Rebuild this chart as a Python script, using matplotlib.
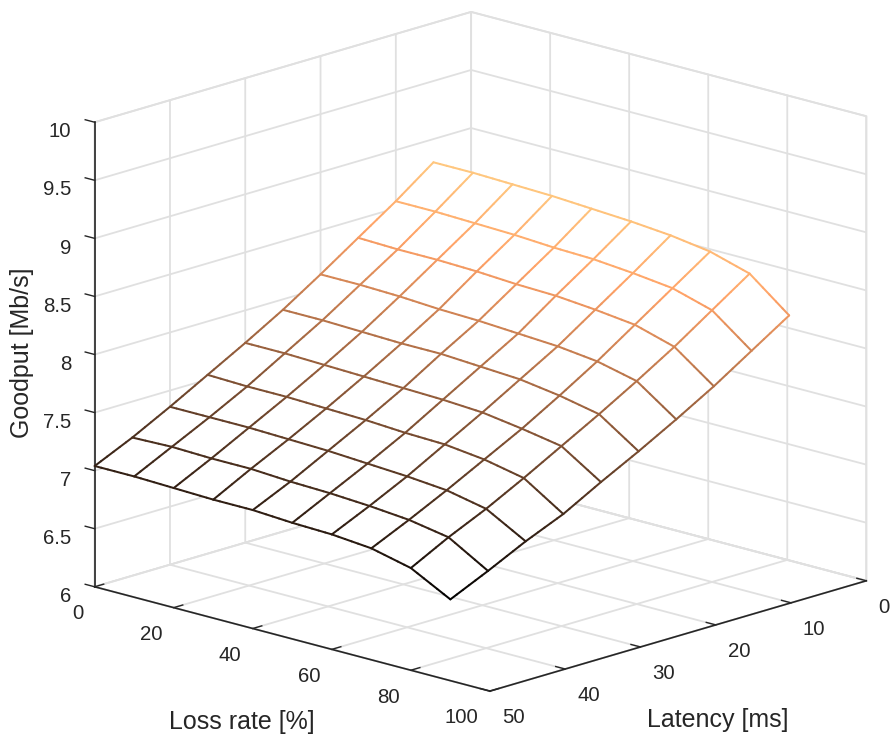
import numpy as np
import matplotlib
matplotlib.use("Agg")
import matplotlib.pyplot as plt
from matplotlib.transforms import Affine2D
from mpl_toolkits.mplot3d.art3d import Line3DCollection

plt.rcParams['font.family'] = ['Liberation Sans', 'DejaVu Sans']

# data
loss = [0, 10, 20, 30, 40, 50, 60, 70, 80, 90]
latency = [50, 45, 40, 35, 30, 25, 20, 15, 10, 5]
gp_50 = [7.04, 7.04, 7.03, 7.02, 7.02, 7.00, 6.99, 6.96, 6.88, 6.70]
gp_45 = [7.19, 7.20, 7.19, 7.19, 7.17, 7.16, 7.14, 7.11, 7.05, 6.85]
gp_40 = [7.36, 7.36, 7.36, 7.35, 7.34, 7.32, 7.30, 7.27, 7.20, 7.01]
gp_35 = [7.54, 7.53, 7.53, 7.52, 7.51, 7.49, 7.48, 7.44, 7.37, 7.15]
gp_30 = [7.72, 7.72, 7.71, 7.70, 7.69, 7.68, 7.66, 7.61, 7.55, 7.33]
gp_25 = [7.91, 7.91, 7.90, 7.89, 7.89, 7.87, 7.85, 7.80, 7.73, 7.50]
gp_20 = [8.12, 8.12, 8.11, 8.09, 8.08, 8.06, 8.04, 8.00, 7.92, 7.68]
gp_15 = [8.34, 8.33, 8.33, 8.32, 8.30, 8.29, 8.26, 8.22, 8.12, 7.87]
gp_10 = [8.56, 8.56, 8.55, 8.54, 8.52, 8.51, 8.48, 8.44, 8.34, 8.08]
gp_5 = [8.80, 8.80, 8.79, 8.78, 8.76, 8.74, 8.71, 8.66, 8.56, 8.29]

x_ticks = [0, 20, 40, 60, 80, 100]
y_ticks = [0, 10, 20, 30, 40, 50]
z_ticks = [6, 6.5, 7, 7.5, 8, 8.5, 9, 9.5, 10]
z_labels = ['6', '6.5', '7', '7.5', '8', '8.5', '9', '9.5', '10']

X, Y = np.meshgrid(loss, latency)
Z = np.array([gp_50, gp_45, gp_40, gp_35, gp_30, gp_25, gp_20, gp_15, gp_10, gp_5])

W, H = 896, 735
side = 884.3
fig = plt.figure(figsize=(W / 100, H / 100), dpi=100, facecolor='white')
ax = fig.add_axes([26.4 / W, -70.6 / H, side / W, side / H], projection='3d',
                  proj_type='ortho', computed_zorder=False)
ax.view_init(elev=16.15, azim=-46.5)
ax.set_box_aspect((543, 545, 482))
ax.set_xlim(0, 100, view_margin=0)
ax.set_ylim(50, 0, view_margin=0)
ax.set_zlim(6, 10, view_margin=0)

# white sheet hides the grid behind the mesh
ax.plot_surface(X, Y, Z, color='white', shade=False, linewidth=0,
                antialiased=False, rstride=1, cstride=1, zorder=2)

# mesh lines, colour follows height along each edge
segs = []
vals = []
n = 6
t = np.linspace(0, 1, n + 1)
for r in range(Z.shape[0]):
    for c in range(Z.shape[1]):
        for dr, dc in [(0, 1), (1, 0)]:
            r2, c2 = r + dr, c + dc
            if r2 >= Z.shape[0] or c2 >= Z.shape[1]:
                continue
            px = X[r, c] + t * (X[r2, c2] - X[r, c])
            py = Y[r, c] + t * (Y[r2, c2] - Y[r, c])
            pz = Z[r, c] + t * (Z[r2, c2] - Z[r, c])
            for k in range(n):
                segs.append([(px[k], py[k], pz[k]), (px[k + 1], py[k + 1], pz[k + 1])])
                vals.append((pz[k] + pz[k + 1]) / 2)
mesh = Line3DCollection(segs, cmap='copper', linewidths=1.45, capstyle='round', zorder=3)
mesh.set_array(np.array(vals))
mesh.set_clim(Z.min(), Z.max())
ax.add_collection3d(mesh)

ax.set_xticks(x_ticks)
ax.set_yticks(y_ticks)
ax.set_zticks(z_ticks)
ax.set_zticklabels(z_labels)
ax.zaxis.set_ticks_position('upper')

dark = '#262626'
grid_c = '#e0e0e0'
for a in [ax.xaxis, ax.yaxis, ax.zaxis]:
    a.set_pane_color((1, 1, 1, 1))
    a.pane.set_edgecolor(grid_c)
    a.pane.set_linewidth(1.3)
    a.line.set_color(dark)
    a.line.set_linewidth(1.2)
    a._axinfo['grid'].update(color=grid_c, linewidth=1.3)
    a._axinfo['tick'].update(inward_factor=0.0, outward_factor=0.3, linewidth={True: 1.0, False: 1.0})

ax.tick_params(axis='both', colors=dark, labelsize=14.7)
ax.tick_params(axis='x', pad=2)
ax.tick_params(axis='y', pad=2)
ax.tick_params(axis='z', pad=2)


def shift(txt, dx, dy):
    txt.set_transform(ax.transData + Affine2D().translate(dx, dy))


for lab in ax.get_xticklabels():
    lab.set_ha('right')
    shift(lab, -21, 3)
for lab in ax.get_yticklabels():
    lab.set_ha('left')
    shift(lab, 16, 4)
for lab in ax.get_zticklabels():
    lab.set_ha('right')
    shift(lab, 3, 9)

# axis3d puts its own labels back on every draw, so these go on the figure
fig.text(242 / W, 1 - 722 / H, 'Loss rate [%]', fontsize=18, color=dark, ha='center', va='center')
fig.text(718 / W, 1 - 720 / H, 'Latency [ms]', fontsize=18, color=dark, ha='center', va='center')
fig.text(22 / W, 1 - 353 / H, 'Goodput [Mb/s]', fontsize=18, color=dark, ha='center', va='center',
         rotation=90)

fig.savefig('out.png', dpi=100)
